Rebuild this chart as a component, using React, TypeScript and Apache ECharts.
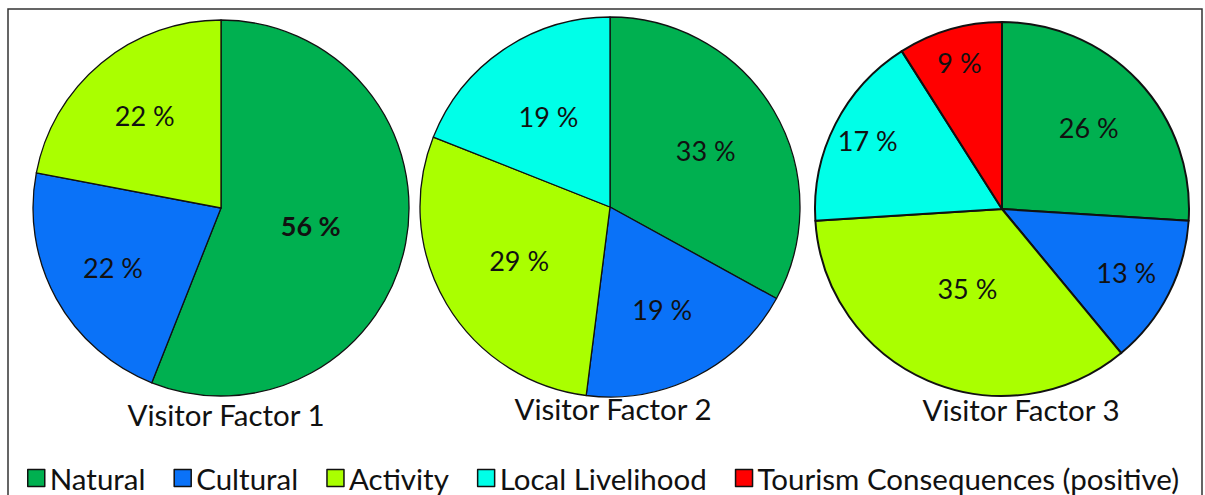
import React, { useEffect, useRef } from "react";
import * as echarts from "echarts";

const categories = [
  "Natural",
  "Cultural",
  "Activity",
  "Local Livelihood",
  "Tourism Consequences (positive)",
];
const factor1 = [56, 22, 22];
const factor2 = [33, 19, 29, 19];
const factor3 = [26, 13, 35, 17, 9];
const titles = ["Visitor Factor 1", "Visitor Factor 2", "Visitor Factor 3"];

const colors = ["#00b050", "#0a72f8", "#aaff00", "#00ffe8", "#ff0000"];
const FONT = "Lato";

// layout / styling (not data)
const pieCenters: [number, number][] = [
  [221, 208],
  [610, 207],
  [1002, 209],
];
const pieRadii = [188, 190, 187];
const labelRadiusFrac = [
  [0.47, 0.64, 0.62],
  [0.57, 0.59, 0.54, 0.56],
  [0.62, 0.73, 0.45, 0.79, 0.8],
];
const borderWidths = [1.3, 1.3, 2];
const titlePos: [number, number][] = [
  [226, 414],
  [613, 408],
  [1021, 409],
];

function buildSeries(values: number[], idx: number) {
  const total = values.reduce((a, b) => a + b, 0);
  const r = pieRadii[idx];
  let cum = 0;
  const data = values.map((v, j) => {
    const mid = ((cum + v / 2) / total) * Math.PI * 2;
    cum += v;
    const f = labelRadiusFrac[idx][j] - 0.5;
    const dx = Math.sin(mid) * f * r;
    const dy = -Math.cos(mid) * f * r;
    return {
      name: categories[j],
      value: v,
      label: {
        offset: [dx, dy],
        fontWeight: idx === 0 && j === 0 ? "bold" : "normal",
      },
    };
  });
  return {
    type: "pie",
    center: pieCenters[idx],
    radius: r,
    startAngle: 90,
    clockwise: true,
    avoidLabelOverlap: false,
    silent: true,
    emphasis: { disabled: true },
    itemStyle: { borderColor: "#111", borderWidth: borderWidths[idx] },
    label: {
      show: true,
      position: "inside",
      formatter: (p: any) => `${p.value} %`,
      color: "#111",
      fontFamily: FONT,
      fontSize: 27,
    },
    labelLine: { show: false },
    data,
  };
}

export default function App() {
  const ref = useRef<HTMLDivElement>(null);
  useEffect(() => {
    if (!ref.current) return;
    const chart = echarts.init(ref.current, undefined, { renderer: "svg" });
    const option: any = {
      animation: false,
      backgroundColor: "#ffffff",
      color: colors,
      legend: {
        data: categories,
        left: 27,
        top: 463,
        width: 1178,
        padding: 0,
        icon: "rect",
        itemWidth: 17,
        itemHeight: 17,
        itemGap: 28,
        itemStyle: { borderColor: "#111", borderWidth: 1.5 },
        textStyle: { fontFamily: FONT, fontSize: 29.5, color: "#111", lineHeight: 30 },
        selectedMode: false,
      },
      series: [
        buildSeries(factor1, 0),
        buildSeries(factor2, 1),
        buildSeries(factor3, 2),
      ],
      graphic: [
        {
          type: "rect",
          silent: true,
          z: -10,
          shape: { x: 8, y: 9, width: 1194, height: 500 },
          style: { fill: "none", stroke: "#333", lineWidth: 1.5 },
        },
        ...titles.map((t, i) => ({
          type: "text",
          x: titlePos[i][0],
          y: titlePos[i][1],
          silent: true,
          style: {
            text: t,
            fontFamily: FONT,
            fontSize: 29.5,
            fill: "#111",
            textAlign: "center",
            textVerticalAlign: "middle",
          },
        })),
      ],
    };
    chart.setOption(option);
    return () => chart.dispose();
  }, []);
  return (
    <div
      ref={ref}
      style={{ position: "fixed", left: 0, top: 0, width: 1205, height: 495, background: "#fff" }}
    />
  );
}
